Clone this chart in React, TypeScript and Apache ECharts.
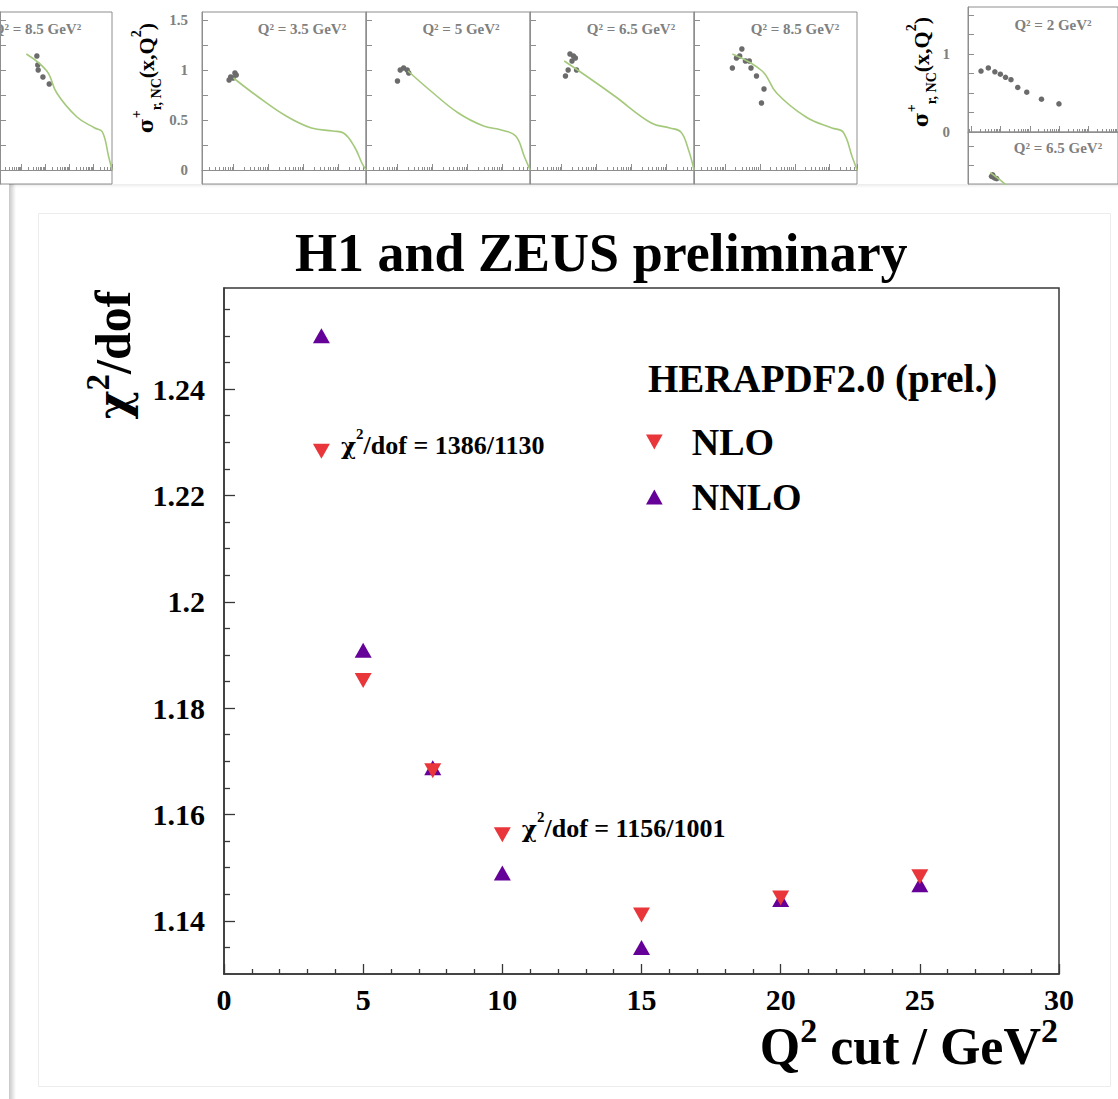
import React, { useEffect, useRef } from "react";
import * as echarts from "echarts";

// ---------------- main chart data ----------------
const Q2_CUTS = [3.5, 5, 7.5, 10, 15, 20, 25];
const CHI2_NLO = [1.2283, 1.1852, 1.1682, 1.1562, 1.1411, 1.1443, 1.1483];
const CHI2_NNLO = [1.25, 1.1909, 1.1688, 1.149, 1.135, 1.144, 1.1468];
const SERIES_NAMES = ["NLO", "NNLO"];
const LEGEND_HEADER = "HERAPDF2.0 (prel.)";
const TITLE = "H1 and ZEUS preliminary";
const ANNOTATED_CUTS = [3.5, 10];
const ANNOTATION_TEXTS = ["1386/1130", "1156/1001"];
const X_MIN = 0;
const X_MAX = 30;
const X_STEP = 5;
const Y_MIN = 1.13;
const Y_MAX = 1.259;
const Y_MAJOR_TICKS = [1.14, 1.16, 1.18, 1.2, 1.22, 1.24];
const Y_MINOR_TICKS = [
  1.135, 1.145, 1.15, 1.155, 1.165, 1.17, 1.175, 1.185, 1.19, 1.195, 1.205,
  1.21, 1.215, 1.225, 1.23, 1.235, 1.245, 1.25, 1.255,
];

// ---------------- background slide panels ----------------
const BG_TITLES = [
  "Q² = 8.5 GeV²",
  "Q² = 3.5 GeV²",
  "Q² = 5 GeV²",
  "Q² = 6.5 GeV²",
  "Q² = 8.5 GeV²",
  "Q² = 2 GeV²",
  "Q² = 6.5 GeV²",
];
const BG_Y_TICKS = [0, 0.25, 0.5, 0.75, 1, 1.25, 1.5];
const BG_Y_LABELS = [0, 0.5, 1, 1.5];
const BG_F_TICKS = [0, 0.25, 0.5, 0.75, 1, 1.25, 1.5];
const BG_F_LABELS = [0, 1];
const BG_G_TICKS = [1.25, 1.5];

const CURVE_35_X = [1.0e-4, 4.7e-4, 3.2e-3, 1.7e-2, 7.0e-2, 0.14, 0.29, 0.47, 0.62];
const CURVE_35_Y = [0.92, 0.74, 0.54, 0.42, 0.39, 0.37, 0.23, 0.07, 0];
const CURVE_5_X = [2.0e-4, 8.3e-4, 5.5e-3, 2.9e-2, 9.3e-2, 0.24, 0.43, 0.62];
const CURVE_5_Y = [0.99, 0.8, 0.57, 0.44, 0.4, 0.34, 0.13, 0];
const CURVE_65_X = [1.2e-4, 6.2e-4, 3.3e-3, 3.7e-2, 0.126, 0.26, 0.43, 0.62];
const CURVE_65_Y = [1.09, 0.92, 0.74, 0.47, 0.42, 0.38, 0.2, 0];
const CURVE_85_X = [1.6e-4, 1.15e-3, 3.0e-3, 2.1e-2, 0.117, 0.245, 0.45, 0.62];
const CURVE_85_Y = [1.16, 0.99, 0.77, 0.53, 0.42, 0.38, 0.13, 0];
const CURVE_G_X = [4.5e-5, 1.0e-4, 2.0e-4];
const CURVE_G_Y = [1.15, 1.05, 0.95];

const PTS_A_X = [4.4e-4, 4.8e-4, 5.0e-4, 7.9e-4, 1.45e-3];
const PTS_A_Y = [1.14, 1.05, 1.0, 0.93, 0.86];
const PTS_B_X = [7.5e-5, 8.3e-5, 9.8e-5, 1.1e-4, 1.2e-4];
const PTS_B_Y = [0.9, 0.93, 0.92, 0.97, 0.95];
const PTS_C_X = [1.0e-4, 1.2e-4, 1.5e-4, 1.9e-4, 2.1e-4];
const PTS_C_Y = [0.89, 1.0, 1.02, 1.0, 0.97];
const PTS_D_X = [1.3e-4, 1.55e-4, 1.75e-4, 2.0e-4, 2.2e-4, 2.5e-4, 2.7e-4];
const PTS_D_Y = [0.94, 1.0, 1.16, 1.09, 1.14, 1.12, 1.0];
const PTS_E_X = [1.6e-4, 2.1e-4, 2.6e-4, 3.0e-4, 3.8e-4, 4.9e-4, 5.5e-4, 7.9e-4, 1.1e-3, 1.3e-3];
const PTS_E_Y = [1.02, 1.12, 1.14, 1.21, 1.09, 1.09, 1.02, 0.94, 0.67, 0.81];
const PTS_F_X = [2.2e-5, 3.9e-5, 6.5e-5, 1.0e-4, 1.5e-4, 2.3e-4, 3.9e-4, 7.9e-4, 2.5e-3, 9.8e-3];
const PTS_F_Y = [0.78, 0.82, 0.77, 0.74, 0.7, 0.67, 0.57, 0.51, 0.42, 0.36];
const PTS_G_X = [5.0e-5, 5.5e-5, 6.3e-5, 7.5e-5];
const PTS_G_Y = [1.1, 1.12, 1.08, 1.07];

// ---------------- styling ----------------
const FONT = '"Liberation Serif", "Times New Roman", Times, serif';
const GREEK = '"DejaVu Serif", "Liberation Serif", serif';
const AXIS = "#383838";
const RED = "#e8363b";
const PURPLE = "#650099";
const BG_LINE = "#8e8e8e";
const BG_TEXT = "#808080";
const BG_POINT = "#6b6b6b";
const BG_CURVE = "#a5c97c";
const DOWN_TRI = "path://M0,0 L10,0 L5,9 Z";
const UP_TRI = "path://M5,0 L10,9 L0,9 Z";

function zip(xs: number[], ys: number[]) {
  return xs.map((x, i) => [x, ys[i]]);
}

function supRich(size: number, supSize: number, lh: number, color: string, chiSize: number) {
  return {
    m: { fontFamily: FONT, fontWeight: "bold", fontSize: size, lineHeight: lh, color, verticalAlign: "middle" },
    c: { fontFamily: GREEK, fontWeight: "bold", fontSize: chiSize, lineHeight: lh, color, verticalAlign: "middle" },
    s: { fontFamily: FONT, fontWeight: "bold", fontSize: supSize, lineHeight: supSize, color, verticalAlign: "top" },
  };
}

function buildOption() {
  const grid: any[] = [];
  const xAxis: any[] = [];
  const yAxis: any[] = [];
  const series: any[] = [];
  const graphic: any[] = [];

  // ---------- background panels ----------
  const LOGR: [number, number] = [1.259e-5, 0.6166];
  const LOGF: [number, number] = [7.94e-6, 1.0];
  const panels = [
    { box: [-52, 12, 164, 172], xr: LOGR, yr: [-0.14, 1.58], ticks: BG_Y_TICKS, labels: null, margin: 14, cx: CURVE_85_X, cy: CURVE_85_Y, px: PTS_A_X, py: PTS_A_Y, title: BG_TITLES[0], tx: 37, ty: 29, xShow: true },
    { box: [202, 12, 164, 172], xr: LOGR, yr: [-0.14, 1.58], ticks: BG_Y_TICKS, labels: BG_Y_LABELS, margin: 14, cx: CURVE_35_X, cy: CURVE_35_Y, px: PTS_B_X, py: PTS_B_Y, title: BG_TITLES[1], tx: 302, ty: 29, xShow: true },
    { box: [366, 12, 164, 172], xr: LOGR, yr: [-0.14, 1.58], ticks: BG_Y_TICKS, labels: null, margin: 14, cx: CURVE_5_X, cy: CURVE_5_Y, px: PTS_C_X, py: PTS_C_Y, title: BG_TITLES[2], tx: 461, ty: 29, xShow: true },
    { box: [530, 12, 164, 172], xr: LOGR, yr: [-0.14, 1.58], ticks: BG_Y_TICKS, labels: null, margin: 14, cx: CURVE_65_X, cy: CURVE_65_Y, px: PTS_D_X, py: PTS_D_Y, title: BG_TITLES[3], tx: 631, ty: 29, xShow: true },
    { box: [694, 12, 163, 172], xr: LOGR, yr: [-0.14, 1.58], ticks: BG_Y_TICKS, labels: null, margin: 14, cx: CURVE_85_X, cy: CURVE_85_Y, px: PTS_E_X, py: PTS_E_Y, title: BG_TITLES[4], tx: 795, ty: 29, xShow: true },
    { box: [968, 7, 164, 125], xr: LOGF, yr: [0, 1.6], ticks: BG_F_TICKS, labels: BG_F_LABELS, margin: 18, cx: null, cy: null, px: PTS_F_X, py: PTS_F_Y, title: BG_TITLES[5], tx: 1053, ty: 25, xShow: true },
    { box: [968, 132, 164, 52], xr: LOGF, yr: [1.0, 1.68], ticks: BG_G_TICKS, labels: null, margin: 18, cx: CURVE_G_X, cy: CURVE_G_Y, px: PTS_G_X, py: PTS_G_Y, title: BG_TITLES[6], tx: 1058, ty: 148, xShow: false },
  ];

  panels.forEach((p: any) => {
    const gi = grid.length;
    grid.push({ left: p.box[0], top: p.box[1], width: p.box[2], height: p.box[3], show: true, borderColor: BG_LINE, borderWidth: 1 });
    xAxis.push({
      gridIndex: gi, type: "log", logBase: 10, min: p.xr[0], max: p.xr[1], show: p.xShow,
      axisLine: { show: true, onZero: true, lineStyle: { color: BG_LINE, width: 1 } },
      axisTick: { show: true, inside: true, length: 6, lineStyle: { color: BG_LINE } },
      minorTick: { show: true, splitNumber: 9, length: 3, lineStyle: { color: BG_LINE } },
      axisLabel: { show: false }, splitLine: { show: false }, minorSplitLine: { show: false },
    });
    yAxis.push({
      gridIndex: gi, type: "value", min: p.yr[0], max: p.yr[1],
      axisLine: { show: true, onZero: false, lineStyle: { color: BG_LINE, width: 1 } },
      axisTick: { show: true, inside: true, length: 6, customValues: p.ticks, lineStyle: { color: BG_LINE } },
      axisLabel: p.labels
        ? { show: true, customValues: p.labels, fontFamily: FONT, fontWeight: "bold", fontSize: 15, color: BG_TEXT, margin: p.margin }
        : { show: false },
      splitLine: { show: false },
    });
    if (p.cx) {
      series.push({
        type: "line", xAxisIndex: gi, yAxisIndex: gi, data: zip(p.cx, p.cy), smooth: 0.4,
        showSymbol: false, symbol: "none", lineStyle: { color: BG_CURVE, width: 1.6 }, clip: true, silent: true,
      });
    }
    series.push({
      type: "scatter", xAxisIndex: gi, yAxisIndex: gi, data: zip(p.px, p.py), symbol: "circle", symbolSize: 5.5,
      itemStyle: { color: BG_POINT, opacity: 1 }, clip: true, silent: true,
    });
    graphic.push({
      type: "text", x: p.tx, y: p.ty,
      style: { text: p.title, fill: BG_TEXT, font: `bold 15px ${FONT}`, align: "center", verticalAlign: "middle" },
    });
  });

  const bgRich = {
    m: { fontFamily: FONT, fontWeight: "bold", fontSize: 22, lineHeight: 34, color: "#9a9a9a", verticalAlign: "middle" },
    g: { fontFamily: GREEK, fontWeight: "bold", fontSize: 20, lineHeight: 34, color: "#9a9a9a", verticalAlign: "middle" },
    s: { fontFamily: FONT, fontWeight: "bold", fontSize: 14, lineHeight: 14, color: "#9a9a9a", verticalAlign: "top" },
    b: { fontFamily: FONT, fontWeight: "bold", fontSize: 14, lineHeight: 14, color: "#9a9a9a", verticalAlign: "bottom" },
  };
  const bgYTitle = "{g|σ}{s|+}{b|r, NC}{m|(x,Q}{s|2}{m|)}";
  graphic.push({ type: "text", x: 146, y: 78, rotation: Math.PI / 2, style: { text: bgYTitle, rich: bgRich, align: "center", verticalAlign: "middle" } });
  graphic.push({ type: "text", x: 921, y: 72, rotation: Math.PI / 2, style: { text: bgYTitle, rich: bgRich, align: "center", verticalAlign: "middle" } });

  // ---------- overlay panel ----------
  graphic.push({ type: "rect", shape: { x: 10, y: 184, width: 1108, height: 915 }, style: { fill: "#fff" }, z: -10 });
  graphic.push({
    type: "rect", shape: { x: 9, y: 184, width: 7, height: 915 },
    style: { fill: new echarts.graphic.LinearGradient(0, 0, 1, 0, [{ offset: 0, color: "rgba(0,0,0,0.22)" }, { offset: 1, color: "rgba(0,0,0,0)" }]) },
  });
  graphic.push({
    type: "rect", shape: { x: 10, y: 184, width: 1108, height: 4 },
    style: { fill: new echarts.graphic.LinearGradient(0, 0, 0, 1, [{ offset: 0, color: "rgba(0,0,0,0.08)" }, { offset: 1, color: "rgba(0,0,0,0)" }]) },
  });
  graphic.push({ type: "rect", shape: { x: 38.5, y: 213.5, width: 1072, height: 873 }, style: { fill: "none", stroke: "#ececec", lineWidth: 1 } });

  // ---------- main chart ----------
  const MAIN = { left: 224, top: 288, width: 835, height: 686 };
  const mi = grid.length;
  grid.push({ ...MAIN, show: true, borderColor: AXIS, borderWidth: 1.5 });
  grid.push({ ...MAIN, show: false });
  const tickFont = { fontFamily: FONT, fontWeight: "bold", fontSize: 30, color: "#000" };
  const axLine = { color: AXIS, width: 1.5 };
  xAxis.push({
    gridIndex: mi, type: "value", min: X_MIN, max: X_MAX, interval: X_STEP,
    axisLine: { show: true, onZero: false, lineStyle: axLine },
    axisTick: { show: true, inside: true, length: 10, lineStyle: { color: AXIS, width: 1.3 } },
    minorTick: { show: true, splitNumber: 5, length: 5, lineStyle: { color: AXIS, width: 1.3 } },
    axisLabel: { ...tickFont, margin: 10 },
    splitLine: { show: false }, minorSplitLine: { show: false },
  });
  xAxis.push({ gridIndex: mi + 1, type: "value", min: X_MIN, max: X_MAX, show: false });
  yAxis.push({
    gridIndex: mi, type: "value", min: Y_MIN, max: Y_MAX,
    axisLine: { show: true, onZero: false, lineStyle: axLine },
    axisTick: { show: true, inside: true, length: 11, customValues: Y_MAJOR_TICKS, lineStyle: { color: AXIS, width: 1.3 } },
    axisLabel: { ...tickFont, customValues: Y_MAJOR_TICKS, margin: 19 },
    splitLine: { show: false },
  });
  yAxis.push({
    gridIndex: mi + 1, type: "value", min: Y_MIN, max: Y_MAX,
    axisLine: { show: false },
    axisTick: { show: true, inside: true, length: 6, customValues: Y_MINOR_TICKS, lineStyle: { color: AXIS, width: 1.3 } },
    axisLabel: { show: false }, splitLine: { show: false },
  });

  const annRich = supRich(26, 15, 38, "#000", 23);
  series.push({
    type: "scatter", name: SERIES_NAMES[1], xAxisIndex: mi, yAxisIndex: mi,
    symbol: "triangle", symbolSize: [17, 15], itemStyle: { color: PURPLE, opacity: 1 }, z: 5,
    data: zip(Q2_CUTS, CHI2_NNLO),
  });
  series.push({
    type: "scatter", name: SERIES_NAMES[0], xAxisIndex: mi, yAxisIndex: mi,
    symbol: "triangle", symbolRotate: 180, symbolSize: [17, 15], itemStyle: { color: RED, opacity: 1 }, z: 6,
    data: Q2_CUTS.map((q, i) => {
      const k = ANNOTATED_CUTS.indexOf(q);
      const item: any = { value: [q, CHI2_NLO[i]] };
      if (k >= 0) {
        item.label = {
          show: true, position: "right", distance: 11, offset: [0, -6],
          formatter: `{c|χ}{s|2}{m|/dof = ${ANNOTATION_TEXTS[k]}}`, rich: annRich,
        };
      }
      return item;
    }),
  });

  // axis titles & legend header
  graphic.push({
    type: "text", x: 113, y: 355, rotation: Math.PI / 2, z: 10,
    style: { text: "{c|χ}{s|2}{m|/dof}", rich: supRich(50, 33, 64, "#000", 44), align: "center", verticalAlign: "middle" },
  });
  graphic.push({
    type: "text", x: 1058, y: 1046, z: 10,
    style: { text: "{m|Q}{s|2}{m| cut / GeV}{s|2}", rich: supRich(52, 34, 66, "#000", 44), align: "right", verticalAlign: "middle" },
  });
  graphic.push({
    type: "text", x: 648, y: 378, z: 10,
    style: { text: LEGEND_HEADER, fill: "#000", font: `bold 39px ${FONT}`, align: "left", verticalAlign: "middle" },
  });

  return {
    animation: false,
    backgroundColor: "#fff",
    title: {
      text: TITLE, left: 295, top: 226, padding: 0,
      textStyle: { fontFamily: FONT, fontWeight: "bold", fontSize: 54, color: "#000" },
    },
    legend: {
      data: [
        { name: SERIES_NAMES[0], icon: DOWN_TRI, itemStyle: { color: RED, opacity: 1 } },
        { name: SERIES_NAMES[1], icon: UP_TRI, itemStyle: { color: PURPLE, opacity: 1 } },
      ],
      orient: "vertical", left: 646, top: 420, padding: 0,
      itemWidth: 17, itemHeight: 15, itemGap: 11, selectedMode: false,
      textStyle: { fontFamily: FONT, fontWeight: "bold", fontSize: 38, color: "#000", lineHeight: 44, padding: [0, 0, 0, 24] },
    },
    grid, xAxis, yAxis, series, graphic,
  };
}

export default function App() {
  const ref = useRef<HTMLDivElement>(null);
  useEffect(() => {
    document.body.style.margin = "0";
    document.body.style.overflow = "hidden";
    const chart = echarts.init(ref.current!, null, { renderer: "svg", width: 1118, height: 1099 });
    chart.setOption(buildOption());
    return () => chart.dispose();
  }, []);
  return <div ref={ref} style={{ width: 1118, height: 1099, background: "#fff" }} />;
}
